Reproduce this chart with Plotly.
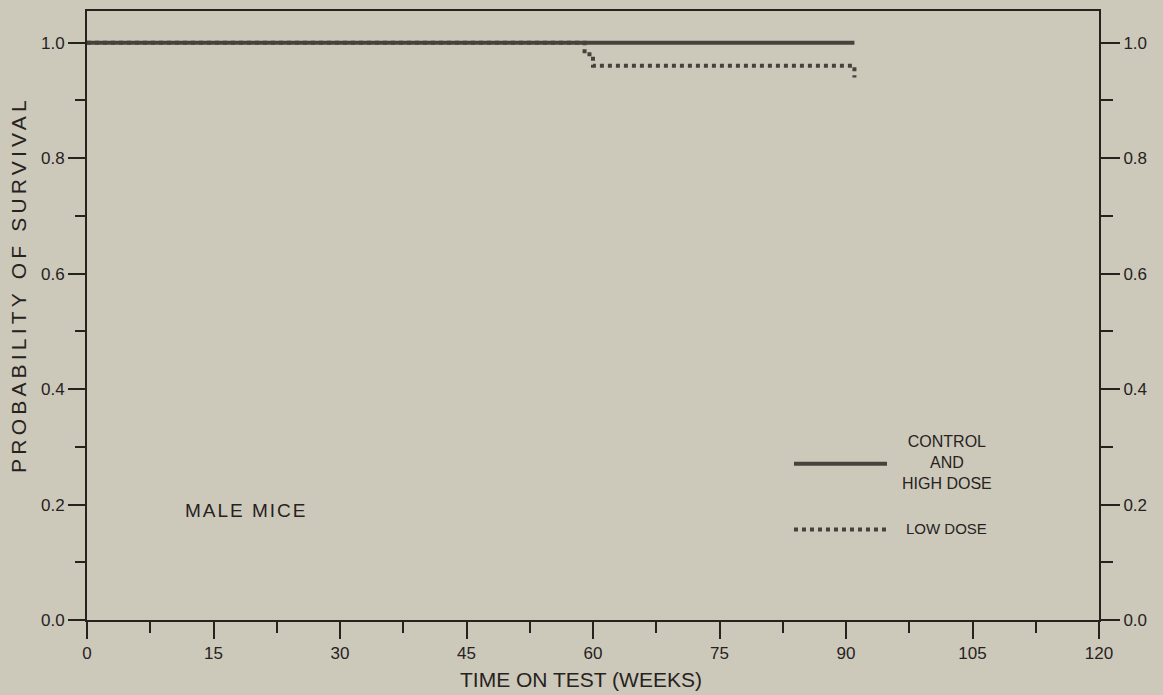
import plotly.graph_objects as go

# Survival step data (weeks on test, probability of survival)
control_weeks = [0, 91]
control_surv = [1.0, 1.0]

low_weeks = [0, 59, 60, 91]
low_surv = [1.0, 0.98, 0.96, 0.94]

x_ticks = [0, 15, 30, 45, 60, 75, 90, 105, 120]
y_ticks = [0.0, 0.2, 0.4, 0.6, 0.8, 1.0]

BG = "#cdc9ba"
INK = "#26221e"
LINE = "#46433c"
FONT = "Liberation Sans, Arial, sans-serif"

fig = go.Figure()

# low dose first so the solid control line sits on top where they coincide
fig.add_trace(go.Scatter(
    x=low_weeks, y=low_surv, mode="lines", line_shape="hv",
    line=dict(color=LINE, width=4, dash="dot"), showlegend=False, hoverinfo="skip",
))
fig.add_trace(go.Scatter(
    x=control_weeks, y=control_surv, mode="lines", line_shape="hv",
    line=dict(color=LINE, width=4), showlegend=False, hoverinfo="skip",
))
# placeholder so the right-hand axis is drawn
fig.add_trace(go.Scatter(x=[None], y=[None], yaxis="y2", showlegend=False, hoverinfo="skip"))

tickfont = dict(family=FONT, size=17, color=INK)

fig.update_layout(
    width=1163, height=695,
    margin=dict(l=87, r=64, t=9, b=75),
    paper_bgcolor=BG, plot_bgcolor=BG,
    font=dict(family=FONT, color=INK),
    xaxis=dict(
        range=[0, 120], tickvals=x_ticks, ticktext=[str(v) for v in x_ticks],
        showgrid=False, zeroline=False, showline=True, mirror=True,
        linecolor=INK, linewidth=2,
        ticks="outside", ticklen=17, tickwidth=2, tickcolor=INK,
        minor=dict(dtick=7.5, tick0=0, ticks="outside", ticklen=11,
                   tickwidth=2, tickcolor=INK, showgrid=False),
        tickfont=tickfont,
    ),
    yaxis=dict(
        range=[0, 1.055], tickvals=y_ticks, tickformat=".1f",
        showgrid=False, zeroline=False, showline=True,
        linecolor=INK, linewidth=2,
        ticks="outside", ticklen=17, tickwidth=2, tickcolor=INK,
        minor=dict(dtick=0.1, tick0=0, ticks="outside", ticklen=10,
                   tickwidth=2, tickcolor=INK, showgrid=False),
        tickfont=tickfont,
    ),
    yaxis2=dict(
        range=[0, 1.055], tickvals=y_ticks, tickformat=".1f",
        overlaying="y", side="right", anchor="x",
        showgrid=False, zeroline=False, showline=True,
        linecolor=INK, linewidth=2,
        ticks="outside", ticklen=19, tickwidth=2, tickcolor=INK,
        minor=dict(dtick=0.1, tick0=0, ticks="outside", ticklen=12,
                   tickwidth=2, tickcolor=INK, showgrid=False),
        tickfont=tickfont,
    ),
    shapes=[
        dict(type="line", xref="paper", yref="paper", x0=0.6986, x1=0.7905,
             y0=0.2565, y1=0.2565, line=dict(color=LINE, width=4)),
        dict(type="line", xref="paper", yref="paper", x0=0.6986, x1=0.7925,
             y0=0.1484, y1=0.1484, line=dict(color=LINE, width=4, dash="dot")),
    ],
    annotations=[
        dict(text="PROBABILITY OF SURVIVAL", xref="paper", yref="paper",
             x=-0.068, y=0.551, xanchor="center", yanchor="middle",
             textangle=-90, showarrow=False, font=dict(size=21, color=INK)),
        dict(text="TIME ON TEST (WEEKS)", xref="paper", yref="paper",
             x=0.488, y=-0.098, xanchor="center", yanchor="middle",
             showarrow=False, font=dict(size=21, color=INK)),
        dict(text="MALE MICE", xref="paper", yref="paper",
             x=0.1035, y=0.179, xanchor="left", yanchor="middle",
             showarrow=False, font=dict(size=19, color=INK)),
        dict(text="CONTROL<br>AND<br>HIGH DOSE", xref="paper", yref="paper",
             x=0.8498, y=0.2586, xanchor="center", yanchor="middle", align="center",
             showarrow=False, font=dict(size=16, color=INK)),
        dict(text="LOW DOSE", xref="paper", yref="paper",
             x=0.8073, y=0.151, xanchor="left", yanchor="middle",
             showarrow=False, font=dict(size=15, color=INK)),
    ],
)

# widen the lettering of the vertical axis title and the panel label
post = """
var gd = document.getElementById('{plot_id}');
function spaceOut() {
  gd.querySelectorAll('text.annotation-text').forEach(function (t) {
    var s = t.textContent;
    if (s.indexOf('PROBABILITY') === 0) { t.style.letterSpacing = '4.2px'; }
    if (s.indexOf('MALE') === 0) { t.style.letterSpacing = '2px'; }
  });
}
spaceOut();
gd.on('plotly_afterplot', spaceOut);
"""

fig.write_html("out.html", post_script=post)
